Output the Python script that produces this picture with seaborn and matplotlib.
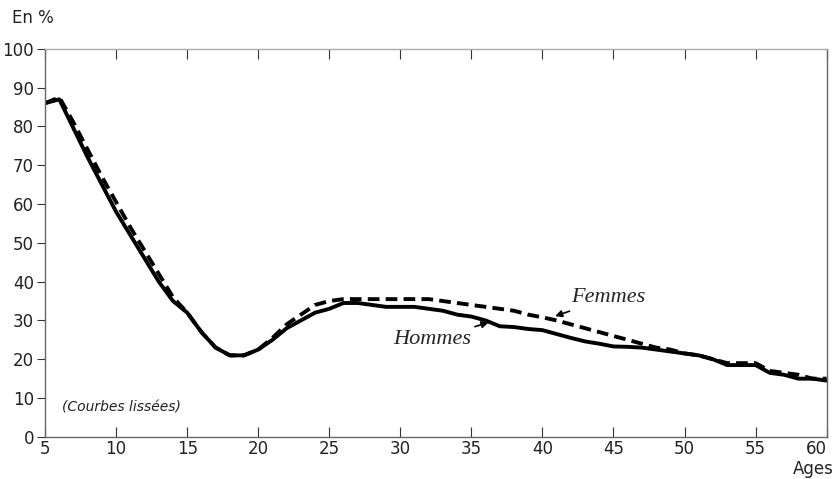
import pandas as pd
import matplotlib.pyplot as plt
import seaborn as sns

# Values (smoothed curves, %)
ages = list(range(5, 61))
hommes = [86, 87, 79.5, 72, 65, 58, 52, 46, 40, 35, 32, 27, 23, 21, 21, 22.5,
          25, 28, 30, 32, 33, 34.5, 34.5, 34, 33.5, 33.5, 33.5, 33, 32.5, 31.5,
          31, 30, 28.5, 28.3, 27.8, 27.5, 26.5, 25.5, 24.6, 24, 23.3, 23.2, 23,
          22.5, 22, 21.5, 21, 20, 18.5, 18.5, 18.5, 16.5, 16, 15, 15, 14.5]
femmes = [86, 87.5, 81, 74, 67, 60.5, 54, 48, 42, 36, 32, 27, 23, 21, 21, 22.5,
          25.5, 29, 31.5, 34, 35, 35.5, 35.5, 35.5, 35.5, 35.5, 35.5, 35.5, 35,
          34.5, 34, 33.5, 33, 32.5, 31.5, 30.8, 30, 29, 28, 27, 26, 25, 24, 23,
          22.5, 21.5, 21, 20, 19, 19, 19, 17, 16.5, 16, 15, 15]

df = pd.DataFrame({
    "age": ages * 2,
    "pct": hommes + femmes,
    "sexe": ["Hommes"] * len(ages) + ["Femmes"] * len(ages),
})

sns.set_style("white")
plt.rcParams["font.family"] = ["DejaVu Sans"]

fig = plt.figure(figsize=(8.35, 4.79), dpi=100)
ax = fig.add_axes([0.054, 0.088, 0.936, 0.81])

sns.lineplot(data=df, x="age", y="pct", style="sexe", color="black",
             dashes={"Hommes": "", "Femmes": (3, 1.6)}, linewidth=2.8,
             legend=False, ax=ax)

ax.set_xlim(5, 60)
ax.set_ylim(0, 100)
ax.set_xticks(range(5, 61, 5))
ax.set_yticks(range(0, 101, 10))
ax.set_xlabel("")
ax.set_ylabel("")
ax.tick_params(axis="x", direction="in", top=True, bottom=True, length=7,
               labelsize=12, colors="#333", labelcolor="#222", pad=2)
ax.tick_params(axis="y", direction="out", left=True, length=6,
               labelsize=12, colors="#333", labelcolor="#222", pad=2)
# keep the "60" inside the figure
ax.get_xticklabels()[-1].set_ha("right")
for side, sp in ax.spines.items():
    sp.set_color("#666")
    sp.set_linewidth(1.0)
ax.spines["top"].set_color("#aaa")

fig.text(0.014, 0.952, "En %", fontsize=12, color="#222")
fig.text(0.950, 0.010, "Ages", fontsize=12, color="#222")
ax.text(6.2, 7.5, "(Courbes lissées)", fontsize=10, style="italic",
        color="#222", va="center")

ax.annotate("Femmes", xy=(40.8, 31.0), xytext=(42.0, 35.8),
            fontsize=16, style="italic", family="Liberation Serif",
            ha="left", va="center",
            arrowprops=dict(arrowstyle="-|>", color="black", lw=1.2,
                            mutation_scale=10, shrinkA=1, shrinkB=1))
ax.annotate("Hommes", xy=(36.3, 29.6), xytext=(35.0, 25.0),
            fontsize=16, style="italic", family="Liberation Serif",
            ha="right", va="center",
            arrowprops=dict(arrowstyle="-|>", color="black", lw=1.2,
                            mutation_scale=10, shrinkA=1, shrinkB=1))

fig.savefig("out.png", dpi=100)
